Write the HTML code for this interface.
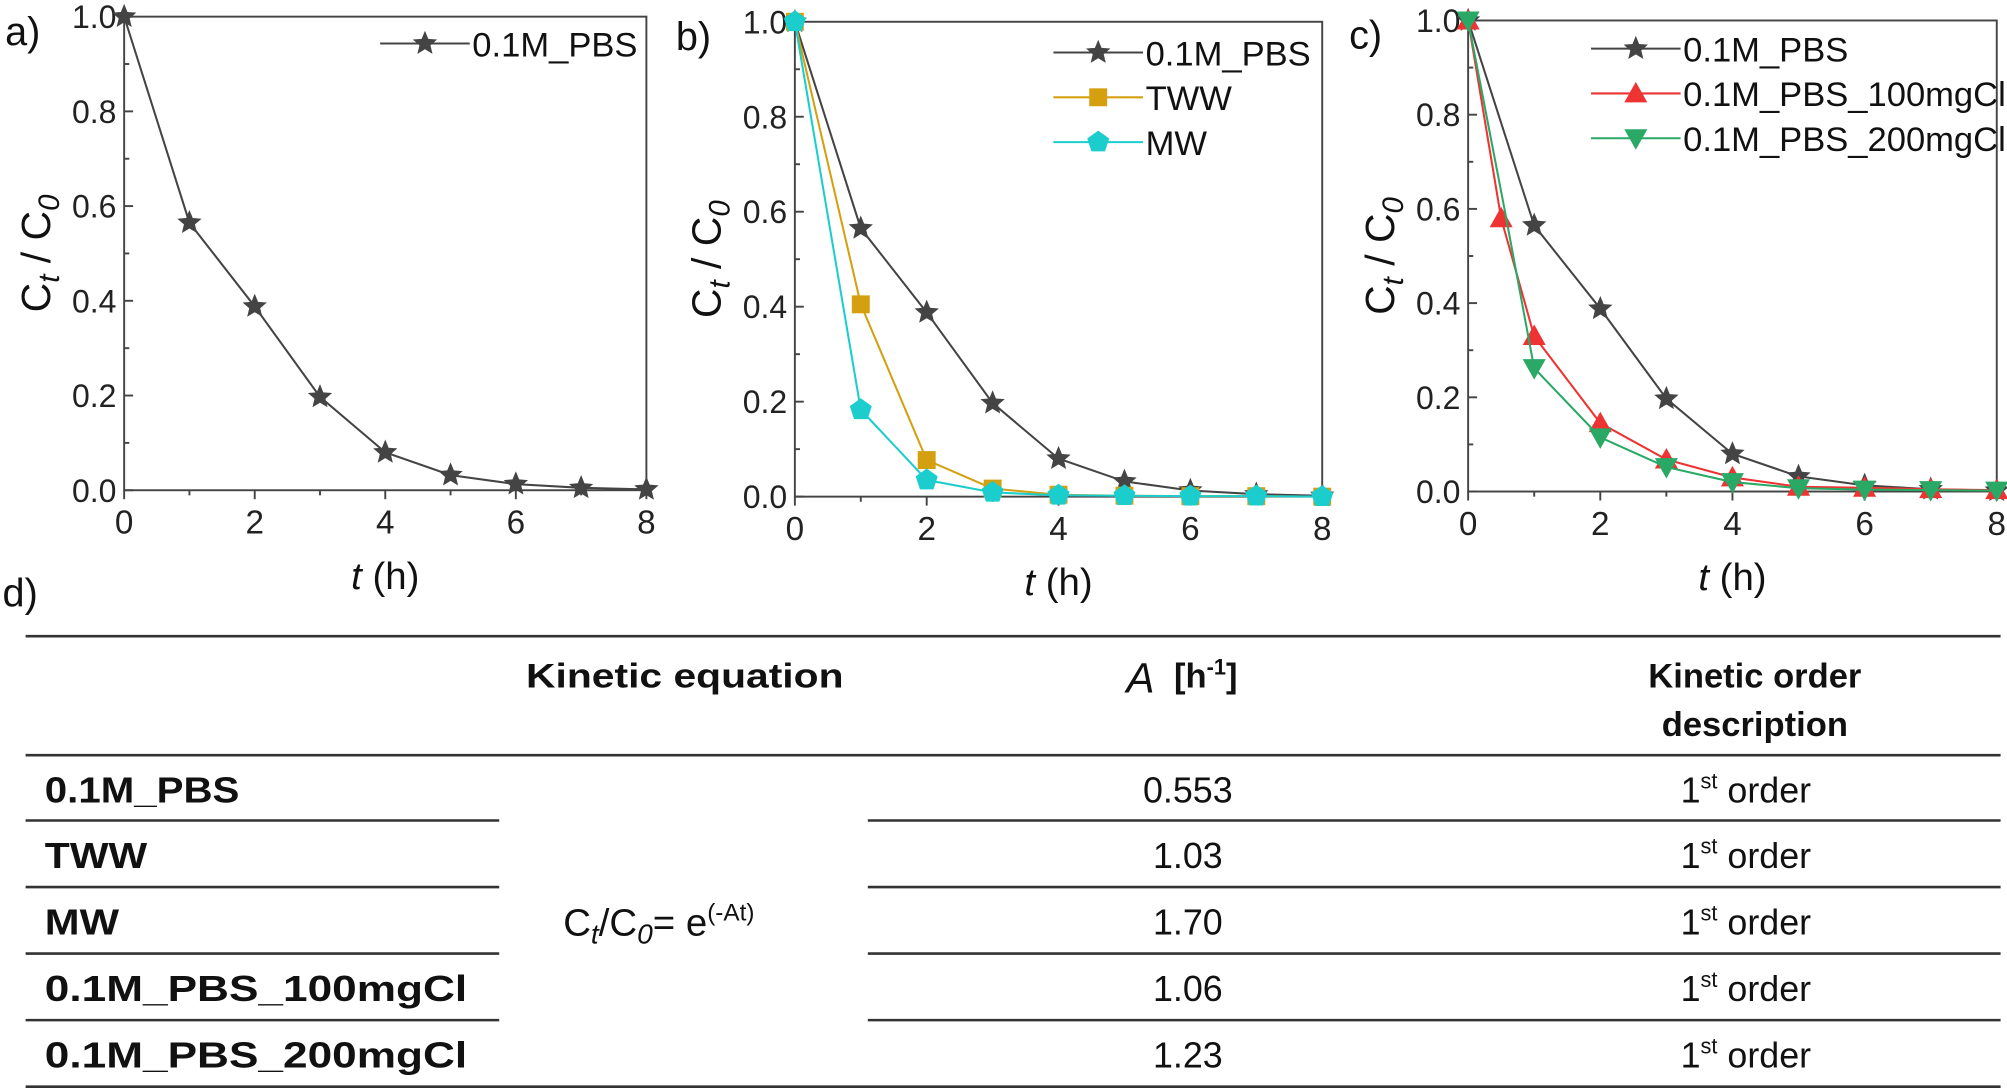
<!DOCTYPE html>
<html><head><meta charset="utf-8"><style>
html,body{margin:0;padding:0;background:#fff;}
svg{display:block;font-family:"Liberation Sans",Arial,sans-serif;}
</style></head><body>
<svg id="s" width="2007" height="1088" viewBox="0 0 1568 850" xmlns="http://www.w3.org/2000/svg">
<rect width="1568" height="850" fill="#fff"/>
<g id="plots"></g>
<g id="tbl" fill="#111">
<line x1="20" y1="497" x2="1563" y2="497" stroke="#333" stroke-width="2"/>
<line x1="20" y1="590" x2="1563" y2="590" stroke="#333" stroke-width="2"/>
<g stroke="#333" stroke-width="2">
<line x1="20" y1="641" x2="390" y2="641"/><line x1="678" y1="641" x2="1563" y2="641"/>
<line x1="20" y1="693" x2="390" y2="693"/><line x1="678" y1="693" x2="1563" y2="693"/>
<line x1="20" y1="745" x2="390" y2="745"/><line x1="678" y1="745" x2="1563" y2="745"/>
<line x1="20" y1="797" x2="390" y2="797"/><line x1="678" y1="797" x2="1563" y2="797"/>
</g>
<line x1="20" y1="849" x2="1563" y2="849" stroke="#333" stroke-width="2"/>
<text x="2" y="474" font-size="31">d)</text>
<g font-size="27" font-weight="bold" text-anchor="middle">
<text x="535" y="537" textLength="248" lengthAdjust="spacingAndGlyphs">Kinetic equation</text>
<text x="1371" y="537">Kinetic order</text>
<text x="1371" y="575">description</text>
<text x="942" y="537">[h<tspan font-size="17" dy="-10">-1</tspan><tspan dy="10">]</tspan></text>
</g>
<text x="880" y="541" font-size="33" font-style="italic">A</text>
<g font-size="28" font-weight="bold">
<text x="35" y="627" textLength="152" lengthAdjust="spacingAndGlyphs">0.1M_PBS</text>
<text x="35" y="678" textLength="80" lengthAdjust="spacingAndGlyphs">TWW</text>
<text x="35" y="730" textLength="58" lengthAdjust="spacingAndGlyphs">MW</text>
<text x="35" y="782" textLength="330" lengthAdjust="spacingAndGlyphs">0.1M_PBS_100mgCl</text>
<text x="35" y="834" textLength="330" lengthAdjust="spacingAndGlyphs">0.1M_PBS_200mgCl</text>
</g>
<g font-size="28" text-anchor="middle">
<text x="928" y="627">0.553</text><text x="928" y="678">1.03</text><text x="928" y="730">1.70</text><text x="928" y="782">1.06</text><text x="928" y="834">1.23</text>
</g>
<g font-size="28">
<text x="1313" y="627">1<tspan font-size="17" dy="-11">st</tspan><tspan dy="11"> order</tspan></text>
<text x="1313" y="678">1<tspan font-size="17" dy="-11">st</tspan><tspan dy="11"> order</tspan></text>
<text x="1313" y="730">1<tspan font-size="17" dy="-11">st</tspan><tspan dy="11"> order</tspan></text>
<text x="1313" y="782">1<tspan font-size="17" dy="-11">st</tspan><tspan dy="11"> order</tspan></text>
<text x="1313" y="834">1<tspan font-size="17" dy="-11">st</tspan><tspan dy="11"> order</tspan></text>
</g>
<text x="440" y="731" font-size="30">C<tspan font-size="22" font-style="italic" dy="6">t</tspan><tspan dy="-6">/C</tspan><tspan font-size="22" font-style="italic" dy="6">0</tspan><tspan dy="-6">= e</tspan><tspan font-size="19" dy="-12">(-At)</tspan></text>
</g>
</svg>
<script>
const NS="http://www.w3.org/2000/svg";
const g=document.getElementById("plots");
function el(t,a,p){const e=document.createElementNS(NS,t);for(const k in a)e.setAttribute(k,a[k]);(p||g).appendChild(e);return e;}
function star(cx,cy,r,c){let p=[];for(let i=0;i<10;i++){const rr=i%2?r*0.45:r;const a=-Math.PI/2+i*Math.PI/5;p.push((cx+rr*Math.cos(a)).toFixed(1)+","+(cy+rr*Math.sin(a)).toFixed(1));}el("polygon",{points:p.join(" "),fill:c});}
function pent(cx,cy,r,c){let p=[];for(let i=0;i<5;i++){const a=-Math.PI/2+i*2*Math.PI/5;p.push((cx+r*Math.cos(a)).toFixed(1)+","+(cy+r*Math.sin(a)).toFixed(1));}el("polygon",{points:p.join(" "),fill:c});}
function mark(type,x,y,c){
 if(type=="star")star(x,y,10,c);
 else if(type=="sq")el("rect",{x:x-7,y:y-7,width:14,height:14,fill:c});
 else if(type=="pent")pent(x,y,9,c);
 else if(type=="tri")el("polygon",{points:`${x},${y-9} ${x-9},${y+7} ${x+9},${y+7}`,fill:c});
 else if(type=="itri")el("polygon",{points:`${x},${y+9} ${x-9},${y-7} ${x+9},${y-7}`,fill:c});
}
function plot(o){
 const X=t=>o.x0+(o.x1-o.x0)*t/8, Y=v=>o.y0+(o.y1-o.y0)*v;
 el("rect",{x:o.x0,y:o.y1,width:o.x1-o.x0,height:o.y0-o.y1,fill:"none",stroke:"#444","stroke-width":1.5});
 for(let i=0;i<=10;i++){const y=Y(i/10);el("line",{x1:o.x0,y1:y,x2:o.x0+(i%2?4:7),y2:y,stroke:"#444","stroke-width":1.5});
  if(i%2==0){const t=el("text",{x:o.x0-6,y:y+9,"font-size":25,"text-anchor":"end",fill:"#222"});t.textContent=(i/10).toFixed(1);}}
 for(let i=0;i<=8;i++){const x=X(i);el("line",{x1:x,y1:o.y0,x2:x,y2:o.y0+(i%2?4:7),stroke:"#444","stroke-width":1.5});
  if(i%2==0){const t=el("text",{x:x,y:o.y0+34,"font-size":26,"text-anchor":"middle",fill:"#222"});t.textContent=i;}}
 const lab=el("text",{x:o.x0-93,y:o.y1+22,"font-size":31,fill:"#111"});lab.textContent=o.lab;
 const xl=el("text",{x:(o.x0+o.x1)/2,y:o.y0+77,"font-size":30,"text-anchor":"middle",fill:"#111"});
 xl.innerHTML='<tspan font-style="italic">t</tspan> (h)';
 const yl=el("text",{transform:`translate(${o.x0-58},${(o.y0+o.y1)/2}) rotate(-90)`,"font-size":32,"text-anchor":"middle",fill:"#111"});
 yl.innerHTML='C<tspan font-size="23" font-style="italic" dy="7">t</tspan><tspan dy="-7"> / C</tspan><tspan font-size="23" font-style="italic" dy="7">0</tspan>';
 o.series.forEach(s=>{
  const pts=s.d.map(p=>X(p[0]).toFixed(1)+","+Y(p[1]).toFixed(1)).join(" ");
  el("polyline",{points:pts,fill:"none",stroke:s.c,"stroke-width":1.6});
  s.d.forEach((p,i)=>{if(!s.skip||!s.skip.includes(i))mark(s.m,X(p[0]),Y(p[1]),s.c);});
 });
 o.series.forEach((s,i)=>{const ly=o.ly+i*35;el("line",{x1:o.lx,y1:ly,x2:o.lx+70,y2:ly,stroke:s.c,"stroke-width":1.6});mark(s.m,o.lx+35,ly,s.c);
  const t=el("text",{x:o.lx+72,y:ly+10,"font-size":27,fill:"#111"});t.textContent=s.n;});
}
const pbs={n:"0.1M_PBS",c:"#444",m:"star",d:[[0,1],[1,.565],[2,.388],[3,.197],[4,.08],[5,.032],[6,.013],[7,.005],[8,.002]]};
const tww={n:"TWW",c:"#d4a010",m:"sq",d:[[0,1],[1,.405],[2,.077],[3,.017],[4,.004],[5,.002],[6,.001],[7,.001],[8,0]]};
const mw={n:"MW",c:"#1ccdcd",m:"pent",d:[[0,1],[1,.183],[2,.035],[3,.009],[4,.003],[5,.002],[6,.001],[7,.001],[8,0]]};
const r100={n:"0.1M_PBS_100mgCl",c:"#ee3333",m:"tri",d:[[0,1],[.5,.58],[1,.33],[2,.145],[3,.068],[4,.03],[5,.01],[6,.008],[7,.005],[8,.003]]};
const g200={n:"0.1M_PBS_200mgCl",c:"#2aa866",m:"itri",skip:[1],d:[[0,1],[.55,.6],[1,.262],[2,.115],[3,.052],[4,.02],[5,.007],[6,.004],[7,.003],[8,.002]]};
plot({x0:97,x1:505,y0:383,y1:13,lab:"a)",series:[pbs],lx:297,ly:34});
plot({x0:621,x1:1033,y0:388,y1:17,lab:"b)",series:[pbs,tww,mw],lx:823,ly:41});
plot({x0:1147,x1:1560,y0:384,y1:16,lab:"c)",series:[pbs,r100,g200],lx:1243,ly:38});
</script>
</body></html>
